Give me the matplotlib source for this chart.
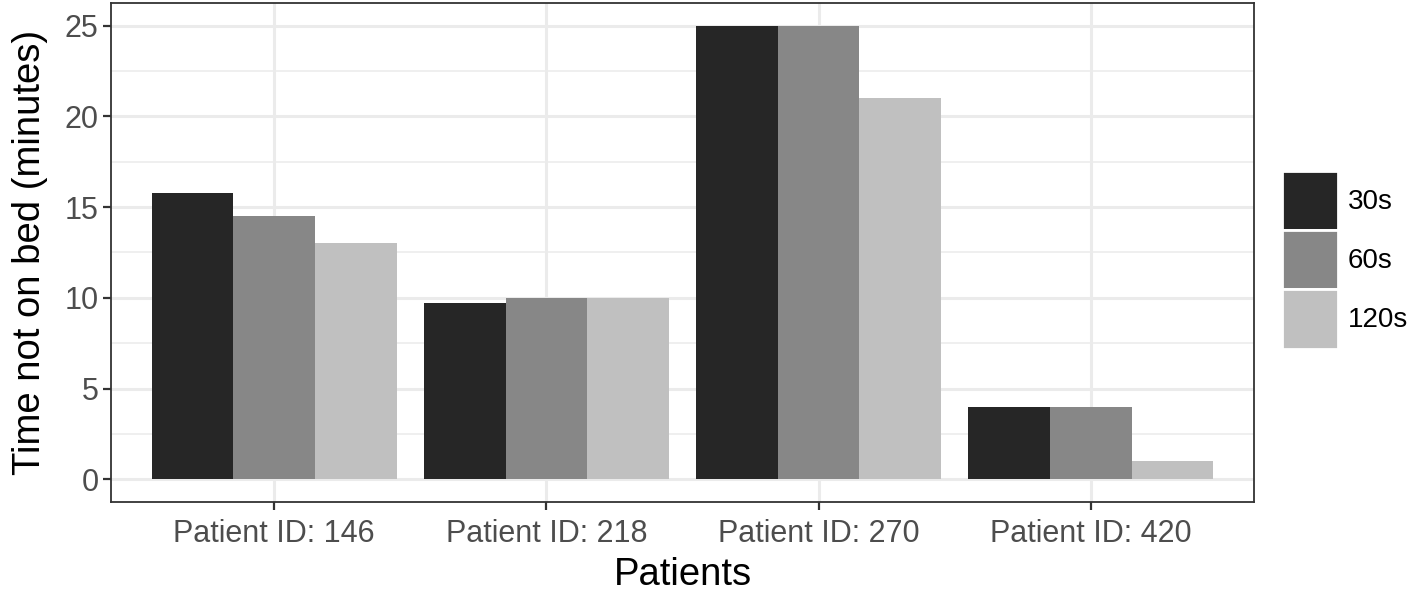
import numpy as np
import matplotlib.pyplot as plt
from matplotlib.patches import Patch

plt.rcParams['font.family'] = ['Liberation Sans', 'DejaVu Sans']

# data
patients = ['Patient ID: 146', 'Patient ID: 218', 'Patient ID: 270', 'Patient ID: 420']
series = ['30s', '60s', '120s']
vals_30 = [15.8, 9.7, 25.0, 4.0]
vals_60 = [14.5, 10.0, 25.0, 4.0]
vals_120 = [13.0, 10.0, 21.0, 1.0]
colors = ['#262626', '#878787', '#c0c0c0']

fig = plt.figure(figsize=(14.16, 5.92), dpi=100)
ax = fig.add_axes([0.0784, 0.152, 0.8072, 0.843])

x = np.arange(1, len(patients) + 1)
w = 0.3
for i, (v, c) in enumerate(zip([vals_30, vals_60, vals_120], colors)):
    ax.bar(x + (i - 1) * w, v, width=w, color=c, zorder=3)

ax.set_xlim(0.4, 4.6)
ax.set_ylim(-1.25, 26.25)
ax.set_yticks([0, 5, 10, 15, 20, 25])
ax.set_yticks([2.5, 7.5, 12.5, 17.5, 22.5], minor=True)
ax.set_xticks(x)
ax.set_xticklabels(patients)

ax.grid(which='major', color='#ebebeb', linewidth=2.2, zorder=0)
ax.grid(which='minor', axis='y', color='#ebebeb', linewidth=1.1, zorder=0)
ax.tick_params(which='minor', length=0)
ax.tick_params(which='major', length=6, width=1.6, color='#333333',
               labelcolor='#4d4d4d', labelsize=22, pad=3)
ax.tick_params(axis='x', pad=6)
for s in ax.spines.values():
    s.set_color('#333333')
    s.set_linewidth(1.3)

ax.set_xlabel('Patients', fontsize=27.5, labelpad=6)
ax.set_ylabel('Time not on bed (minutes)', fontsize=27.5, labelpad=12)

handles = [Patch(facecolor=c, edgecolor='white', linewidth=2) for c in colors]
fig.legend(handles, series, loc='center left', bbox_to_anchor=(0.9055, 0.561),
           frameon=False, fontsize=20, handlelength=2.0, handleheight=2.9,
           labelspacing=0.0, handletextpad=0.35, borderpad=0, borderaxespad=0)

fig.savefig('out.png', dpi=100)
